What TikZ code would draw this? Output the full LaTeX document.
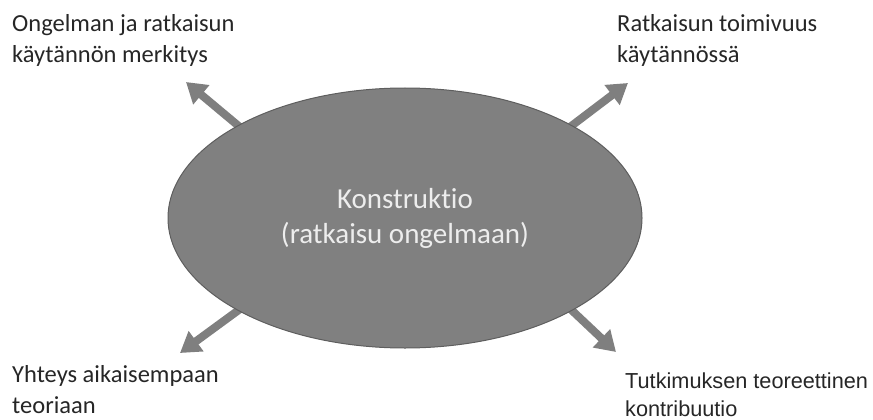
\documentclass[tikz,border=0pt]{standalone}
\usepackage{fontspec}
\setmainfont{Carlito}[Ligatures={NoCommon}]
\newfontfamily\arialfont{Liberation Sans}
\usetikzlibrary{shapes.geometric,arrows.meta,backgrounds}
\definecolor{ellfill}{HTML}{808080}
\definecolor{elledge}{HTML}{5E5E5E}
\definecolor{arrcol}{HTML}{7F7F7F}
\definecolor{txtcol}{HTML}{262626}
\definecolor{innertxt}{HTML}{EDEDED}
\tikzset{
  konst/.style={ellipse, draw=elledge, line width=1pt, fill=ellfill, minimum width=474pt, minimum height=260pt, inner sep=0pt},
  arr/.style={draw=arrcol, line width=8pt, -{Triangle[length=20pt,width=24pt]}, shorten <=-8pt},
  lbl/.style={anchor=base west, align=left, inner sep=0pt, text=txtcol, font=\fontsize{24.5pt}{31pt}\selectfont},
  lblarial/.style={anchor=base west, align=left, inner sep=0pt, text=black!85, font=\arialfont\fontsize{21.7pt}{28pt}\selectfont},
}
\begin{document}
\begin{tikzpicture}[x=1pt,y=-1pt]
\useasboundingbox (0,0) rectangle (873,420);
\node[konst] (k) at (405,218) {};
\node[align=center, text=innertxt, inner sep=0pt, anchor=base, font=\fontsize{29pt}{35pt}\selectfont] (kt) at (405,243) {Konstruktio\\(ratkaisu ongelmaan)};
\coordinate (tl) at (186,82);
\coordinate (tr) at (628,83);
\coordinate (bl) at (180,353);
\coordinate (br) at (616,352);
\begin{pgfonlayer}{background}
\draw[arr] (k.151) -- (tl);
\draw[arr] (k.29) -- (tr);
\draw[arr] (k.209) -- (bl);
\draw[arr] (k.331) -- (br);
\end{pgfonlayer}
\node[lbl] (t1) at (12,63) {Ongelman ja ratkaisun\\käytännön merkitys};
\node[lbl] (t2) at (617,63) {Ratkaisun toimivuus\\käytännössä};
\node[lbl] (t3) at (12,413) {Yhteys aikaisempaan\\teoriaan};
\node[lblarial] (t4) at (625,416) {Tutkimuksen teoreettinen\\kontribuutio};
\end{tikzpicture}
\end{document}
